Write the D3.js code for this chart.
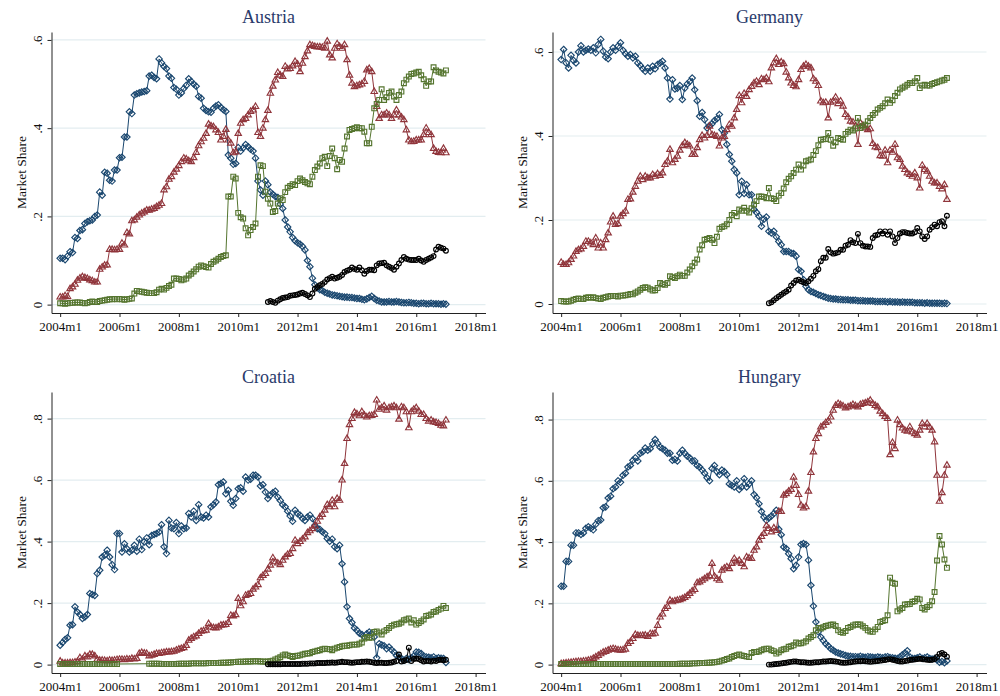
<!DOCTYPE html>
<html>
<head>
<meta charset="utf-8">
<script src="https://cdn.jsdelivr.net/npm/d3@7"></script>
<style>
  body { margin: 0; background: #fff; }
  svg { display: block; }
  text { font-family: "Liberation Serif", "Times New Roman", serif; }
</style>
</head>
<body>
<svg id="chart" width="1000" height="696"></svg>
<script>
// Monthly market shares, 2004m1 .. 2017m1 (index 0 = 2004m1).
const countries = ["Austria", "Germany", "Croatia", "Hungary"];
const xTicks = [0, 24, 48, 72, 96, 120, 144, 168];
const xTickLabels = ["2004m1", "2006m1", "2008m1", "2010m1", "2012m1", "2014m1", "2016m1", "2018m1"];
const yTicksLow = [0, 0.2, 0.4, 0.6];
const yTicksHigh = [0, 0.2, 0.4, 0.6, 0.8];
const yTickLabelsLow = ["0", ".2", ".4", ".6"];
const yTickLabelsHigh = ["0", ".2", ".4", ".6", ".8"];
const circleStart = 84; // fourth series begins 2011m1

// Austria
const atDiamond = [
.105,.105,.102,.11,.12,.118,.152,.15,.168,.17,.184,.188,
.19,.192,.2,.203,.255,.248,.3,.298,.282,.28,.305,.305,
.333,.334,.38,.38,.437,.433,.475,.478,.48,.482,.483,.485,
.518,.52,.515,.512,.557,.548,.54,.535,.518,.513,.492,.488,
.475,.48,.49,.497,.512,.506,.5,.495,.472,.468,.445,.44,
.437,.436,.445,.45,.453,.447,.442,.438,.339,.332,.318,.32,
.356,.348,.355,.363,.358,.352,.348,.332,.28,.26,.248,.28,
.272,.255,.25,.245,.243,.228,.218,.192,.176,.165,.152,.145,
.14,.137,.132,.124,.1,.086,.06,.045,.038,.034,.032,.028,
.026,.024,.022,.021,.02,.019,.018,.017,.017,.016,.016,.015,
.014,.014,.012,.011,.013,.016,.019,.014,.01,.008,.006,.006,
.006,.007,.006,.006,.007,.006,.005,.004,.004,.005,.004,.003,
.003,.002,.003,.003,.002,.002,.003,.002,.002,.002,.001,.002,
.001];
const atTriangle = [
.017,.017,.02,.018,.036,.04,.046,.055,.06,.063,.061,.059,
.056,.054,.051,.051,.08,.085,.089,.09,.125,.125,.124,.125,
.125,.139,.135,.163,.16,.19,.192,.198,.203,.207,.21,.214,
.214,.216,.218,.222,.225,.229,.26,.267,.284,.29,.3,.307,
.315,.324,.332,.33,.326,.324,.333,.345,.36,.369,.377,.388,
.409,.405,.403,.396,.39,.373,.381,.397,.373,.366,.344,.346,
.388,.411,.419,.422,.43,.438,.441,.449,.39,.381,.4,.419,
.44,.479,.495,.509,.526,.52,.517,.54,.534,.535,.541,.551,
.545,.528,.547,.562,.575,.589,.587,.585,.584,.584,.583,.581,
.597,.566,.559,.581,.591,.585,.581,.589,.555,.52,.502,.494,
.496,.498,.5,.506,.532,.535,.528,.483,.449,.422,.43,.43,
.434,.43,.422,.43,.441,.43,.425,.419,.396,.373,.369,.37,
.373,.373,.373,.385,.4,.39,.385,.354,.347,.345,.344,.354,
.344];
const atSquare = [
.003,.003,.002,.003,.004,.004,.005,.005,.005,.004,.003,.004,
.006,.007,.006,.006,.008,.009,.01,.011,.012,.012,.013,.012,
.013,.012,.011,.012,.013,.014,.025,.031,.03,.029,.028,.027,
.026,.026,.026,.028,.034,.036,.034,.038,.042,.045,.059,.059,
.058,.055,.057,.059,.066,.07,.075,.08,.086,.089,.087,.085,
.084,.092,.097,.1,.104,.108,.11,.112,.245,.245,.29,.286,
.208,.198,.195,.173,.157,.169,.176,.184,.29,.316,.314,.256,
.24,.229,.21,.212,.229,.241,.237,.255,.265,.269,.273,.271,
.28,.286,.282,.278,.275,.273,.29,.305,.313,.32,.332,.335,
.314,.337,.354,.332,.307,.328,.324,.354,.381,.396,.398,.4,
.402,.4,.4,.392,.366,.366,.403,.445,.455,.464,.488,.464,
.47,.48,.483,.472,.464,.475,.483,.502,.51,.517,.523,.524,
.526,.528,.52,.511,.496,.506,.506,.538,.531,.528,.526,.524,
.531];
const atCircle = [
.006,.008,.006,.004,.009,.012,.015,.016,.017,.02,.021,.022,
.023,.025,.027,.024,.021,.017,.025,.036,.04,.044,.047,.051,
.057,.06,.063,.059,.061,.063,.067,.074,.077,.079,.084,.081,
.079,.084,.078,.07,.076,.079,.079,.078,.089,.093,.094,.095,
.089,.086,.083,.079,.086,.093,.101,.108,.104,.102,.101,.101,
.101,.104,.1,.097,.101,.104,.107,.11,.125,.131,.129,.127,.122];

// Germany
const deDiamond = [
.582,.606,.574,.562,.592,.58,.574,.6,.615,.6,.604,.607,
.604,.61,.598,.618,.63,.602,.588,.584,.6,.61,.604,.614,
.622,.604,.596,.59,.594,.586,.59,.574,.568,.56,.554,.562,
.554,.566,.56,.57,.574,.578,.562,.538,.488,.534,.512,.514,
.52,.487,.514,.524,.53,.538,.51,.484,.447,.456,.439,.419,
.425,.429,.437,.441,.451,.415,.407,.38,.356,.34,.32,.312,
.26,.292,.263,.284,.26,.26,.225,.218,.209,.185,.202,.207,
.173,.169,.173,.16,.149,.141,.125,.125,.125,.121,.12,.114,
.082,.078,.058,.042,.034,.03,.028,.025,.022,.02,.018,.016,
.014,.013,.012,.012,.011,.011,.01,.01,.01,.009,.009,.009,
.008,.008,.008,.007,.007,.007,.007,.006,.006,.006,.006,.006,
.005,.006,.005,.005,.005,.004,.005,.004,.004,.004,.004,.003,
.003,.003,.003,.002,.003,.002,.002,.002,.002,.002,.001,.002,
.001];
const deTriangle = [
.099,.094,.094,.098,.106,.114,.125,.129,.131,.137,.149,.149,
.145,.141,.157,.133,.145,.133,.153,.169,.195,.209,.189,.191,
.209,.215,.221,.249,.25,.266,.28,.292,.304,.296,.304,.3,
.3,.308,.304,.31,.306,.312,.332,.34,.368,.336,.344,.352,
.366,.377,.384,.38,.376,.356,.356,.372,.391,.401,.395,.401,
.423,.403,.401,.399,.376,.395,.399,.415,.427,.423,.443,.463,
.496,.479,.501,.494,.51,.518,.526,.53,.522,.536,.534,.538,
.529,.562,.574,.584,.57,.576,.572,.552,.538,.526,.52,.517,
.534,.558,.566,.57,.566,.562,.536,.53,.52,.483,.479,.48,
.443,.48,.483,.492,.477,.483,.471,.451,.445,.435,.433,.423,
.38,.431,.425,.419,.415,.417,.382,.374,.372,.353,.352,.366,
.336,.366,.361,.38,.348,.344,.328,.32,.312,.308,.304,.312,
.3,.276,.33,.32,.316,.304,.292,.288,.288,.28,.274,.284,
.249];
const deSquare = [
.007,.006,.006,.006,.008,.01,.012,.013,.012,.012,.015,.016,
.015,.016,.014,.013,.012,.015,.016,.018,.019,.019,.019,.018,
.02,.02,.021,.022,.024,.023,.027,.03,.034,.038,.04,.039,
.035,.032,.033,.038,.05,.047,.046,.05,.066,.064,.062,.066,
.07,.067,.067,.075,.082,.09,.098,.106,.13,.14,.153,.155,
.157,.153,.145,.16,.179,.183,.185,.19,.2,.212,.217,.209,
.225,.222,.229,.222,.218,.228,.237,.245,.256,.256,.255,.252,
.276,.252,.25,.245,.258,.264,.275,.29,.298,.304,.312,.32,
.332,.32,.33,.34,.342,.344,.355,.364,.378,.391,.392,.393,
.407,.391,.377,.385,.395,.393,.391,.405,.41,.415,.413,.418,
.443,.419,.423,.427,.435,.443,.45,.455,.463,.467,.471,.478,
.487,.479,.485,.495,.503,.511,.515,.518,.522,.526,.526,.53,
.538,.514,.52,.522,.52,.52,.524,.526,.528,.53,.532,.534,
.538];
const deCircle = [
.002,.004,.009,.014,.018,.022,.026,.03,.034,.044,.05,.056,
.058,.054,.052,.05,.054,.06,.067,.078,.083,.102,.11,.11,
.131,.123,.12,.121,.123,.129,.129,.139,.141,.152,.147,.145,
.167,.145,.139,.137,.137,.136,.157,.163,.165,.173,.168,.173,
.165,.173,.161,.145,.157,.168,.171,.171,.169,.168,.168,.171,
.181,.173,.161,.155,.161,.177,.183,.189,.185,.195,.197,.185,.21];

// Croatia
const hrDiamond = [
.063,.072,.082,.087,.128,.13,.188,.171,.163,.15,.155,.163,
.231,.228,.225,.296,.307,.35,.356,.372,.35,.325,.309,.426,
.426,.366,.393,.377,.366,.372,.388,.369,.408,.374,.399,.412,
.39,.42,.423,.426,.431,.455,.383,.361,.469,.444,.442,.462,
.426,.451,.442,.444,.491,.48,.499,.469,.52,.48,.477,.486,
.48,.513,.52,.529,.585,.589,.594,.556,.567,.531,.518,.54,
.572,.575,.564,.61,.6,.603,.616,.616,.61,.581,.585,.561,
.54,.551,.559,.564,.545,.534,.52,.513,.499,.483,.466,.502,
.491,.486,.475,.469,.48,.486,.475,.453,.442,.44,.432,.426,
.41,.401,.408,.383,.377,.388,.328,.269,.188,.15,.137,.119,
.112,.102,.098,.09,.1,.106,.101,.09,.022,.068,.064,.061,
.052,.057,.048,.041,.03,.025,.02,.014,.02,.017,.022,.028,
.041,.04,.036,.028,.025,.024,.022,.025,.02,.022,.021,.02,
.007];
const hrTriangle = [
.011,.005,.005,.005,.006,.006,.008,.01,.022,.017,.028,.025,
.033,.033,.028,.017,.014,.014,.013,.012,.014,.013,.014,.016,
.017,.017,.016,.018,.017,.02,.018,.02,.036,.039,.037,.036,
.028,.03,.033,.036,.036,.038,.039,.041,.041,.042,.043,.047,
.05,.052,.055,.062,.079,.085,.09,.093,.101,.108,.11,.112,
.133,.122,.12,.119,.122,.128,.129,.13,.137,.16,.158,.162,
.215,.191,.204,.225,.228,.231,.245,.252,.26,.282,.29,.296,
.31,.323,.347,.334,.33,.325,.339,.35,.358,.361,.377,.404,
.393,.4,.408,.415,.429,.435,.442,.451,.466,.48,.488,.502,
.52,.513,.534,.513,.54,.534,.6,.654,.735,.78,.8,.82,
.815,.809,.822,.811,.805,.809,.81,.813,.86,.83,.835,.841,
.827,.835,.838,.841,.835,.798,.838,.835,.822,.77,.822,.83,
.835,.824,.813,.813,.8,.791,.795,.789,.787,.784,.778,.776,
.795];
const hrSquare = [
.002,.002,.002,.002,.002,.002,.002,.002,.002,.002,.002,.002,
.002,.002,.002,.002,.002,.002,.002,.002,.002,.002,.002,.002,
null,null,null,null,null,null,null,null,null,null,null,null,
.003,.003,.003,.003,.003,.002,.002,.002,.002,.002,.002,.002,
.003,.003,.003,.003,.003,.004,.004,.004,.004,.004,.004,.004,
.005,.005,.005,.005,.005,.006,.006,.006,.007,.007,.008,.008,
.009,.009,.009,.01,.01,.01,.011,.011,.011,.01,.01,.009,
.01,.011,.013,.017,.02,.024,.03,.033,.03,.028,.025,.028,
.029,.03,.033,.035,.036,.037,.041,.043,.045,.047,.05,.052,
.051,.05,.047,.052,.055,.057,.06,.061,.061,.063,.065,.065,
.065,.068,.072,.085,.09,.087,.088,.106,.108,.104,.098,.108,
.113,.119,.126,.13,.131,.133,.137,.144,.147,.15,.137,.144,
.13,.135,.141,.147,.158,.16,.163,.171,.173,.178,.182,.191,
.184];
const hrCircle = [
.001,.001,.001,.001,.001,.001,.002,.002,.002,.002,.002,.002,
.002,.002,.003,.003,.003,.004,.004,.004,.005,.005,.005,.005,
.006,.006,.007,.006,.007,.008,.009,.008,.008,.007,.006,.007,
.008,.008,.009,.009,.01,.009,.008,.006,.005,.006,.006,.005,
.005,.006,.007,.009,.012,.033,.01,.012,.015,.055,.012,.018,
.02,.018,.014,.01,.012,.012,.01,.013,.012,.015,.016,.014,.016];

// Hungary
const huDiamond = [
.256,.256,.337,.337,.39,.39,.43,.43,.425,.43,.445,.45,
.445,.44,.458,.47,.472,.512,.515,.544,.55,.574,.58,.6,
.595,.618,.625,.645,.65,.667,.675,.665,.69,.695,.707,.7,
.705,.72,.735,.722,.71,.705,.7,.69,.69,.667,.67,.665,
.69,.7,.69,.68,.675,.665,.665,.65,.645,.635,.625,.61,
.6,.64,.65,.63,.62,.635,.63,.62,.59,.585,.58,.6,
.572,.58,.607,.58,.59,.6,.555,.545,.525,.5,.482,.471,
.479,.485,.493,.504,.442,.424,.384,.379,.362,.346,.313,.324,
.351,.392,.395,.392,.341,.259,.191,.139,.107,.09,.079,.068,
.061,.052,.047,.041,.038,.035,.033,.03,.028,.027,.026,.026,
.025,.027,.025,.024,.026,.025,.024,.023,.025,.024,.022,.025,
.026,.023,.022,.021,.02,.025,.032,.038,.045,.025,.02,.02,
.022,.025,.02,.022,.025,.02,.018,.02,.015,.008,.01,.006,
.012];
const huTriangle = [
.003,.004,.005,.006,.007,.008,.009,.01,.01,.011,.012,.014,
.016,.02,.025,.03,.035,.04,.043,.047,.05,.052,.05,.048,
.047,.048,.05,.069,.075,.085,.098,.095,.094,.095,.096,.092,
.101,.1,.102,.128,.155,.165,.183,.19,.21,.205,.208,.21,
.212,.215,.219,.225,.232,.24,.245,.267,.27,.275,.28,.286,
.29,.33,.288,.28,.275,.308,.315,.319,.313,.33,.346,.335,
.34,.33,.319,.351,.348,.346,.373,.384,.406,.418,.428,.453,
.444,.433,.446,.438,.5,.5,.553,.558,.566,.572,.612,.585,
.555,.52,.511,.515,.566,.627,.694,.738,.754,.776,.781,.79,
.795,.808,.83,.846,.852,.848,.844,.838,.841,.844,.849,.845,
.841,.849,.852,.854,.857,.863,.852,.846,.841,.827,.819,.81,
.803,.685,.725,.705,.798,.783,.772,.765,.762,.776,.759,.754,
.749,.765,.787,.776,.787,.775,.765,.727,.618,.533,.561,.618,
.651];
const huSquare = [
.002,.002,.002,.002,.002,.002,.002,.002,.002,.002,.002,.002,
.002,.002,.002,.002,.002,.002,.002,.002,.002,.002,.002,.002,
.002,.002,.002,.002,.002,.002,.002,.002,.002,.002,.002,.002,
.002,.002,.002,.002,.002,.002,.002,.002,.002,.002,.002,.002,
.003,.003,.003,.003,.003,.004,.004,.004,.005,.005,.005,.006,
.006,.007,.008,.009,.01,.013,.015,.018,.02,.025,.028,.031,
.033,.03,.028,.026,.025,.038,.041,.041,.043,.047,.05,.052,
.052,.047,.044,.036,.04,.047,.05,.052,.058,.06,.063,.072,
.069,.07,.072,.076,.085,.09,.096,.112,.12,.118,.122,.126,
.128,.13,.131,.126,.112,.106,.104,.11,.12,.123,.128,.131,
.131,.131,.125,.12,.112,.108,.107,.115,.123,.139,.142,.145,
.161,.284,.267,.264,.174,.18,.185,.196,.197,.198,.205,.207,
.215,.213,.185,.18,.188,.194,.207,.237,.34,.42,.392,.343,
.316];
const huCircle = [
.0,.0,.001,.002,.003,.004,.005,.006,.008,.009,.01,.01,
.009,.008,.008,.007,.006,.006,.007,.008,.008,.009,.01,.01,
.011,.012,.011,.01,.009,.007,.006,.006,.007,.008,.009,.01,
.011,.011,.012,.011,.01,.009,.01,.011,.012,.013,.014,.015,
.017,.018,.016,.014,.012,.01,.01,.012,.013,.015,.016,.017,
.018,.019,.018,.017,.016,.015,.016,.018,.025,.035,.038,.033,.026];

// Styling and layout of the 2x2 panel grid
const seriesColors = ["#1a476f", "#90353b", "#55752f", "#000000"];
const seriesShapes = ["diamond", "triangle", "square", "circle"];
const seriesStarts = [0, 0, 0, circleStart];

const panels = [
  { title: countries[0], data: [atDiamond, atTriangle, atSquare, atCircle],
    ox: 0, oy: 0, yDomain: [-0.019, 0.618], ticks: yTicksLow, labels: yTickLabelsLow },
  { title: countries[1], data: [deDiamond, deTriangle, deSquare, deCircle],
    ox: 501, oy: 0, yDomain: [-0.0214, 0.6476], ticks: yTicksLow, labels: yTickLabelsLow },
  { title: countries[2], data: [hrDiamond, hrTriangle, hrSquare, hrCircle],
    ox: 0, oy: 360, yDomain: [-0.0273, 0.8865], ticks: yTicksHigh, labels: yTickLabelsHigh },
  { title: countries[3], data: [huDiamond, huTriangle, huSquare, huCircle],
    ox: 501, oy: 360, yDomain: [-0.0274, 0.890], ticks: yTicksHigh, labels: yTickLabelsHigh }
];

const M = { left: 51.5, right: 485.5, top: 32, bottom: 313 };
const xDomain = [-3.5, 172];

const markerPaths = {
  diamond: "M0,-3.2L3.2,0L0,3.2L-3.2,0Z",
  triangle: "M0,-3.6L3.2,1.9L-3.2,1.9Z",
  square: "M-2.4,-2.4H2.4V2.4H-2.4Z",
  circle: d3.symbol(d3.symbolCircle, 18)()
};

const svg = d3.select("#chart");

panels.forEach(p => {
  const g = svg.append("g").attr("transform", `translate(${p.ox},${p.oy})`);
  const x = d3.scaleLinear().domain(xDomain).range([M.left, M.right]);
  const y = d3.scaleLinear().domain(p.yDomain).range([M.bottom, M.top]);

  // horizontal grid lines
  g.append("g").selectAll("line").data(p.ticks).join("line")
    .attr("x1", M.left).attr("x2", M.right)
    .attr("y1", d => y(d)).attr("y2", d => y(d))
    .attr("stroke", "#e3edf0").attr("stroke-width", 1.2);

  // y axis with rotated labels
  const ya = g.append("g").attr("transform", `translate(${M.left},0)`)
    .call(d3.axisLeft(y).tickValues(p.ticks).tickSize(4).tickSizeOuter(0)
      .tickFormat((d, i) => p.labels[i]));
  ya.selectAll(".tick text")
    .attr("x", null).attr("dy", null)
    .attr("text-anchor", "middle")
    .attr("transform", "translate(-10,0) rotate(-90)")
    .attr("font-size", 13).attr("fill", "#111");
  ya.selectAll("line, path").attr("stroke", "#222");
  ya.attr("font-family", null);

  // x axis
  const xa = g.append("g").attr("transform", `translate(0,${M.bottom})`)
    .call(d3.axisBottom(x).tickValues(xTicks).tickSize(4).tickSizeOuter(0)
      .tickFormat((d, i) => xTickLabels[i]));
  xa.selectAll(".tick text").attr("y", 9).attr("font-size", 13).attr("fill", "#111");
  xa.selectAll("line, path").attr("stroke", "#222");
  xa.attr("font-family", null);

  // axis title and panel title
  g.append("text")
    .attr("transform", `translate(26,${(M.top + M.bottom) / 2}) rotate(-90)`)
    .attr("text-anchor", "middle").attr("font-size", 13.5).attr("fill", "#111")
    .text("Market Share");
  g.append("text")
    .attr("x", (M.left + M.right) / 2).attr("y", 23)
    .attr("text-anchor", "middle").attr("font-size", 18).attr("fill", "#2a3b6b")
    .text(p.title);

  // series: connecting line, then hollow markers
  p.data.forEach((vals, si) => {
    const pts = vals.map((v, i) => ({ m: seriesStarts[si] + i, v }))
      .filter(d => d.v !== null);
    const line = d3.line().x(d => x(d.m)).y(d => y(d.v));
    const sg = g.append("g");
    sg.append("path").attr("d", line(pts))
      .attr("fill", "none").attr("stroke", seriesColors[si]).attr("stroke-width", 1);
    sg.selectAll("path.mk").data(pts).join("path").attr("class", "mk")
      .attr("d", markerPaths[seriesShapes[si]])
      .attr("transform", d => `translate(${x(d.m)},${y(d.v)})`)
      .attr("fill", "none").attr("stroke", seriesColors[si]).attr("stroke-width", 1.15);
  });
});
</script>
</body>
</html>
